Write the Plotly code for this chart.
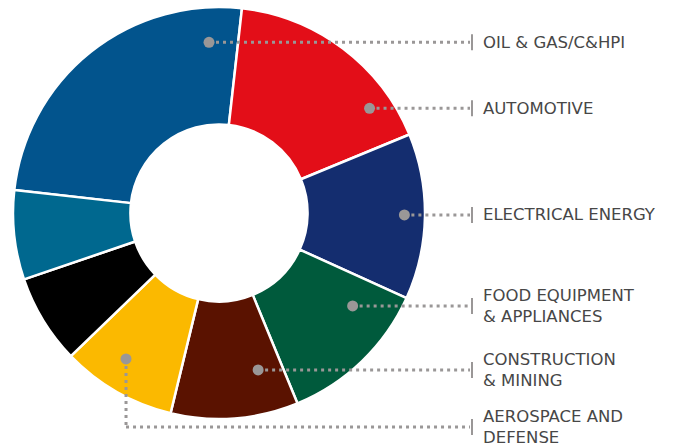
import math
import plotly.graph_objects as go

W, H = 681, 448

# slice data, clockwise starting at the oil & gas slice
segments = ["OIL & GAS/C&HPI", "AUTOMOTIVE", "ELECTRICAL ENERGY",
            "FOOD EQUIPMENT & APPLIANCES", "CONSTRUCTION & MINING",
            "AEROSPACE AND DEFENSE", "OTHER", "OTHER INDUSTRIAL"]
shares = [25, 17, 13, 12, 10, 9, 7, 7]
colors = ["#02548D", "#E30E18", "#142D6F", "#005A3C",
          "#5A1200", "#FBB900", "#000000", "#00688F"]

# labels drawn on the right, with line breaks as in the original
callout_text = ["OIL & GAS/C&HPI", "AUTOMOTIVE", "ELECTRICAL ENERGY",
                "FOOD EQUIPMENT<br>& APPLIANCES", "CONSTRUCTION<br>& MINING",
                "AEROSPACE AND<br>DEFENSE"]

# donut geometry in pixels
CX, CY, R = 219, 213, 206
HOLE = 0.43
START = -83.6

# callout dots: angle clockwise from 12 o'clock, radius as fraction of R,
# and the y of the horizontal leader line
callouts = [(-3.35, 0.83, None), (55.2, 0.89, None), (90.6, 0.90, None),
            (124.8, 0.79, None), (166.0, 0.785, None), (212.5, 0.84, 427)]
LINE_END = 470
TICK_X = 472
TEXT_X = 481
GREY = "#9a9797"


def px(x):
    return x / W


def py(y):
    return 1 - y / H


fig = go.Figure(go.Pie(
    labels=segments, values=shares, sort=False, direction="clockwise",
    rotation=START, hole=HOLE, textinfo="none", hoverinfo="label+percent",
    marker=dict(colors=colors, line=dict(color="white", width=2.5)),
    domain=dict(x=[px(CX - R), px(CX + R)], y=[py(CY + R), py(CY - R)]),
    showlegend=False))

shapes, annotations = [], []
for text, (ang, frac, line_y) in zip(callout_text, callouts):
    a = math.radians(ang)
    dx = CX + frac * R * math.sin(a)
    dy = CY - frac * R * math.cos(a)
    ly = dy if line_y is None else line_y
    dot = dict(dash="3px,4px", color=GREY, width=3)
    if line_y is not None:
        shapes.append(dict(type="line", xref="paper", yref="paper",
                           x0=px(dx), x1=px(dx), y0=py(dy), y1=py(ly),
                           line=dot, layer="above"))
    shapes.append(dict(type="line", xref="paper", yref="paper",
                       x0=px(dx), x1=px(LINE_END), y0=py(ly), y1=py(ly),
                       line=dot, layer="above"))
    shapes.append(dict(type="circle", xref="paper", yref="paper",
                       x0=px(dx - 5.5), x1=px(dx + 5.5),
                       y0=py(dy + 5.5), y1=py(dy - 5.5),
                       fillcolor=GREY, line=dict(width=0), layer="above"))
    shapes.append(dict(type="line", xref="paper", yref="paper",
                       x0=px(TICK_X), x1=px(TICK_X),
                       y0=py(ly - 8), y1=py(ly + 8),
                       line=dict(color=GREY, width=2), layer="above"))
    annotations.append(dict(x=px(TEXT_X), y=py(ly), xref="paper", yref="paper",
                            text=text, showarrow=False, xanchor="left",
                            yanchor="middle", align="left",
                            font=dict(family="DejaVu Sans", size=16.5,
                                      color="#474747")))

fig.update_layout(width=W, height=H, margin=dict(l=0, r=0, t=0, b=0),
                  paper_bgcolor="white", plot_bgcolor="white",
                  shapes=shapes, annotations=annotations)

# drop the browser's default body margin so the figure sits at the corner
fig.write_html("out.html", config={"displayModeBar": False},
               post_script="document.body.style.margin='0';")
